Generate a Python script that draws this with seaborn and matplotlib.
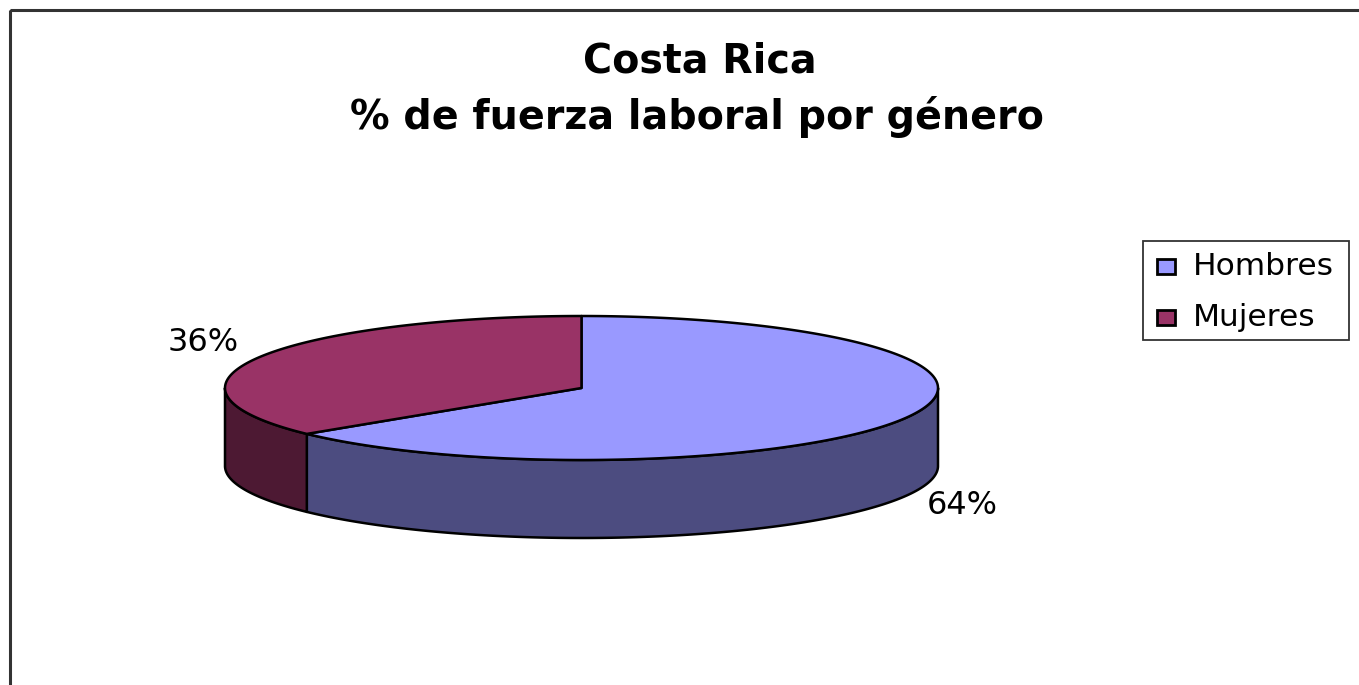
import numpy as np
import matplotlib
matplotlib.use("Agg")
import matplotlib.pyplot as plt
from matplotlib.patches import Polygon, Rectangle
import seaborn as sns

# ---- data ----
categories = ["Hombres", "Mujeres"]
values = [64, 36]
labels = ["64%", "36%"]
title_lines = ["Costa Rica", "% de fuerza laboral por género"]

top_colors = ["#9999FF", "#993366"]
side_colors = ["#4C4C80", "#4D1933"]

sns.set_theme(style="white")
plt.rcParams['font.family'] = ['DejaVu Sans']

W, H = 1359, 685
fig = plt.figure(figsize=(W / 100, H / 100), dpi=100)
ax = fig.add_axes([0, 0, 1, 1])
ax.set_xlim(0, W)
ax.set_ylim(H, 0)
ax.axis("off")

# chart frame
ax.add_patch(Rectangle((10, 10), W + 20, H + 20, fill=False, ec="#333333", lw=2.2, zorder=0))

# pie geometry (pixel space)
cx, cy, rx, ry, depth = 581.5, 388, 356.5, 72, 78


def pt(theta, dy=0.0):
    t = np.radians(theta)
    return cx + rx * np.cos(t), cy - ry * np.sin(t) + dy


fracs = np.array(values, dtype=float) / np.sum(values)
starts = 90 - 360 * np.concatenate([[0], np.cumsum(fracs)[:-1]])
ends = starts - 360 * fracs

# side walls (front visible portion)
for s, e, sc in zip(starts, ends, side_colors):
    a0, a1 = e, s
    for shift in (0, 360, -360):
        lo = max(a0 + shift, -180)
        hi = min(a1 + shift, 0)
        if hi > lo:
            th = np.linspace(lo, hi, 200)
            xs, ys = pt(th)
            top = np.column_stack([xs, ys])
            bot = np.column_stack([xs, ys + depth])[::-1]
            ax.add_patch(Polygon(np.vstack([top, bot]), closed=True, fc=sc,
                                 ec="black", lw=1.8, joinstyle="round", zorder=2))

# top faces
for s, e, tc in zip(starts, ends, top_colors):
    th = np.linspace(s, e, 400)
    xs, ys = pt(th)
    poly = np.vstack([[cx, cy], np.column_stack([xs, ys]), [cx, cy]])
    ax.add_patch(Polygon(poly, closed=True, fc=tc, ec="black", lw=1.8,
                         joinstyle="round", zorder=3))

# percentage labels
label_pos = {"64%": (962, 506), "36%": (203, 342)}
for lab in labels:
    x, y = label_pos[lab]
    ax.text(x, y, lab, fontsize=23, ha="center", va="center", color="black", zorder=5)

# title
ax.text(699.5, 61, title_lines[0], fontsize=28.5, fontweight="bold",
        ha="center", va="center", color="black")
ax.text(697, 117, title_lines[1], fontsize=28.5, fontweight="bold",
        ha="center", va="center", color="black")

# legend (drawn in pixel space)
lx0, ly0, lx1, ly1 = 1143, 241, 1349, 340
ax.add_patch(Rectangle((lx0, ly0), lx1 - lx0, ly1 - ly0, fill=True, fc="white",
                       ec="#333333", lw=1.3, zorder=4))
row_y = [266, 317]
for cat, c, yy in zip(categories, top_colors, row_y):
    ax.add_patch(Rectangle((1157, yy - 7.5), 18, 15, fc=c, ec="black", lw=2.0, zorder=5))
    ax.text(1193, yy, cat, fontsize=22.5, ha="left", va="center", color="black", zorder=5)

fig.savefig("out.png", dpi=100, facecolor="white")
